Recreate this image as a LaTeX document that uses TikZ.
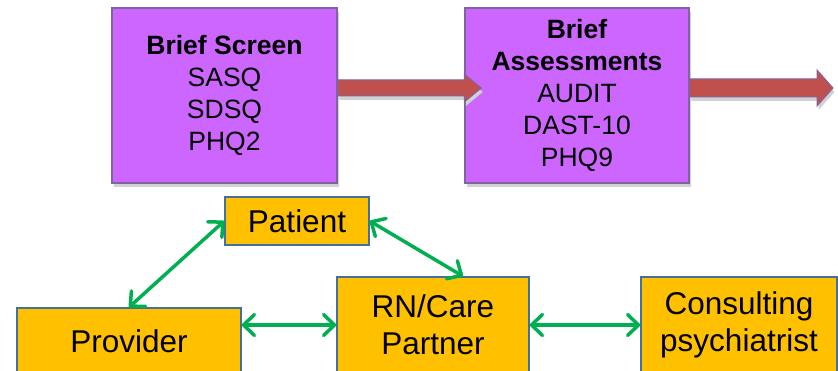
\documentclass[tikz,border=0pt]{standalone}
\usepackage{fontspec}
\setmainfont{Liberation Sans}
\usepackage{xcolor}
\usepackage{tikz}
\usetikzlibrary{positioning,arrows.meta,shadows,calc}

\definecolor{boxpurple}{HTML}{CC66FF}
\definecolor{edgepurple}{HTML}{8064A2}
\definecolor{arrowred}{HTML}{C0504D}
\definecolor{boxorange}{HTML}{FFC000}
\definecolor{edgeblue}{HTML}{41719C}
\definecolor{linkgreen}{HTML}{00B050}

\begin{document}
\begin{tikzpicture}[x=1pt, y=-1pt,
    purplebox/.style={draw=edgepurple, line width=1.5pt, fill=boxpurple, inner sep=0pt, align=center,
        minimum height=175pt, drop shadow={shadow xshift=1.5pt, shadow yshift=-4pt, fill=black!18, opacity=1},
        font=\fontsize{26.5}{32}\selectfont},
    orangebox/.style={draw=edgeblue, line width=1.5pt, fill=boxorange, inner sep=0pt, align=center,
        font=\fontsize{31.5}{37}\selectfont},
    fatarrow/.style={draw=edgepurple, line width=1pt, fill=arrowred, line join=miter,
        drop shadow={shadow xshift=1.5pt, shadow yshift=-4pt, fill=black!18, opacity=1}},
    link/.style={linkgreen, line width=3.5pt, >={Straight Barb[length=11pt,width=21pt,round]}, <->}]

\clip (0,0) rectangle (838,371);

% top row: screening steps
\node[purplebox, minimum width=225pt] (screen) at (224.5,95.5) {\textbf{Brief Screen}\\SASQ\\SDSQ\\PHQ2};
\node[purplebox, minimum width=224pt] (assess) at (577,95.5) {\textbf{Brief}\\\textbf{Assessments}\\AUDIT\\DAST-10\\PHQ9};
\coordinate (next) at (833,88);

\draw[fatarrow] ($(screen.east)+(0,-15.5)$) -- ($(assess.west)+(0,-15.5)$) -- ++(0,-6)
    -- ($(assess.west)+(17,-7.5)$) -- ($(assess.west)+(0,6.5)$) -- ++(0,-6)
    -- ($(screen.east)+(0,0.5)$) -- cycle;
\draw[fatarrow] ($(assess.east)+(0,-16.5)$) -- ($(next)+(-16,-9)$) -- ++(0,-9)
    -- (next) -- ($(next)+(-16,18)$) -- ++(0,-9)
    -- ($(assess.east)+(0,1.5)$) -- cycle;

% bottom row: care team
\node[orangebox, minimum width=144pt, minimum height=48pt] (patient) at (297,221) {Patient};
\node[orangebox, minimum width=224pt, minimum height=66pt] (provider) at (129,341) {Provider};
\node[orangebox, minimum width=192pt, minimum height=96pt] (rn) at (433,325) {RN/Care\\Partner};
\node[orangebox, minimum width=196pt, minimum height=96pt] (consult) at (739,325) {Consulting\\psychiatrist};

\draw[link] (patient.west) -- (provider.north);
\draw[link] (patient.east) -- ([xshift=30pt]rn.north);
\draw[link] (provider.east |- rn.west) -- (rn.west);
\draw[link] (rn.east) -- (consult.west);

\end{tikzpicture}
\end{document}
